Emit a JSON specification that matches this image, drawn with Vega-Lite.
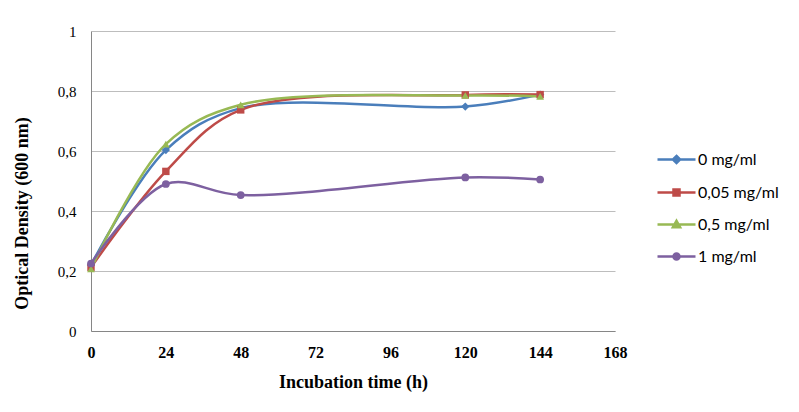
{
  "$schema": "https://vega.github.io/schema/vega-lite/v6.json",
  "width": 524,
  "height": 300,
  "autosize": "none",
  "padding": {"left": 91, "top": 31, "right": 184, "bottom": 81},
  "background": "white",
  "data": {
    "values": [
      {"t": 0, "od": 0.22, "series": "0 mg/ml"},
      {"t": 24, "od": 0.603, "series": "0 mg/ml"},
      {"t": 48, "od": 0.743, "series": "0 mg/ml"},
      {"t": 120, "od": 0.748, "series": "0 mg/ml"},
      {"t": 144, "od": 0.788, "series": "0 mg/ml"},
      {"t": 0, "od": 0.212, "series": "0,05 mg/ml"},
      {"t": 24, "od": 0.532, "series": "0,05 mg/ml"},
      {"t": 48, "od": 0.737, "series": "0,05 mg/ml"},
      {"t": 120, "od": 0.787, "series": "0,05 mg/ml"},
      {"t": 144, "od": 0.788, "series": "0,05 mg/ml"},
      {"t": 0, "od": 0.207, "series": "0,5 mg/ml"},
      {"t": 24, "od": 0.623, "series": "0,5 mg/ml"},
      {"t": 48, "od": 0.754, "series": "0,5 mg/ml"},
      {"t": 120, "od": 0.785, "series": "0,5 mg/ml"},
      {"t": 144, "od": 0.782, "series": "0,5 mg/ml"},
      {"t": 0, "od": 0.225, "series": "1 mg/ml"},
      {"t": 24, "od": 0.49, "series": "1 mg/ml"},
      {"t": 48, "od": 0.453, "series": "1 mg/ml"},
      {"t": 120, "od": 0.512, "series": "1 mg/ml"},
      {"t": 144, "od": 0.505, "series": "1 mg/ml"}
    ]
  },
  "encoding": {
    "x": {
      "field": "t", "type": "quantitative",
      "scale": {"domain": [0, 168], "nice": false, "zero": false},
      "axis": {
        "title": "Incubation time (h)",
        "values": [0, 24, 48, 72, 96, 120, 144, 168],
        "grid": false, "ticks": false, "labelPadding": 13,
        "labelFont": "Liberation Serif", "labelFontSize": 16, "labelFontWeight": "bold", "labelColor": "#000",
        "labelFlush": false, "labelOverlap": false,
        "domainColor": "#868686", "domainWidth": 1,
        "titleFont": "Liberation Serif", "titleFontSize": 18, "titleFontWeight": "bold", "titleColor": "#000",
        "titleBaseline": "alphabetic", "titleY": 56
      }
    },
    "y": {
      "field": "od", "type": "quantitative",
      "scale": {"domain": [0, 1], "nice": false},
      "axis": {
        "title": "Optical Density (600 nm)",
        "values": [0, 0.2, 0.4, 0.6, 0.8, 1],
        "labelExpr": "replace(format(datum.value, '~g'), '.', ',')",
        "grid": true, "gridColor": "#bdbdbd", "gridWidth": 1,
        "ticks": false, "labelPadding": 15,
        "labelFont": "Liberation Serif", "labelFontSize": 15, "labelColor": "#000",
        "labelFlush": false, "labelOverlap": false,
        "domainColor": "#868686", "domainWidth": 1,
        "titleFont": "Liberation Serif", "titleFontSize": 18, "titleFontWeight": "bold", "titleColor": "#000",
        "titleBaseline": "middle", "titleX": -69, "titleY": 182, "titleAngle": -90, "titleAlign": "center"
      }
    }
  },
  "layer": [
    {
      "mark": {"type": "point", "filled": false, "opacity": 0, "strokeWidth": 2.5},
      "encoding": {
        "color": {
          "field": "series", "type": "nominal",
          "scale": {"domain": ["0 mg/ml", "0,05 mg/ml", "0,5 mg/ml", "1 mg/ml"], "range": ["#4a7ebb", "#be4b48", "#98b954", "#7d60a0"]},
          "legend": {
            "encode": {"symbols": {"update": {"fill": {"scale": "color", "field": "value"}, "opacity": {"value": 1}}}}
          }
        },
        "shape": {
          "field": "series", "type": "nominal",
          "scale": {"domain": ["0 mg/ml", "0,05 mg/ml", "0,5 mg/ml", "1 mg/ml"], "range": [
            "M-1.9,0H1.9M0,-0.36L0.36,0L0,0.36L-0.36,0Z",
            "M-1.9,0H1.9M-0.3,-0.3H0.3V0.3H-0.3Z",
            "M-1.9,0H1.9M0,-0.36L0.36,0.28H-0.36Z",
            "M-1.9,0H1.9M-0.3,0A0.3,0.3,0,1,1,0.3,0A0.3,0.3,0,1,1,-0.3,0Z"
          ]},
          "legend": {
            "encode": {"symbols": {"update": {"fill": {"scale": "color", "field": "value"}, "opacity": {"value": 1}}}}
          }
        }
      }
    },
    {
      "mark": {"type": "line", "interpolate": "catmull-rom", "strokeWidth": 2.5},
      "encoding": {
        "color": {"field": "series", "type": "nominal", "legend": null},
        "detail": {"field": "series"}
      }
    },
    {
      "transform": [{"filter": "datum.series == '0 mg/ml'"}],
      "mark": {"type": "point", "shape": "diamond", "filled": true, "opacity": 1, "size": 70},
      "encoding": {"color": {"field": "series", "type": "nominal", "legend": null}}
    },
    {
      "transform": [{"filter": "datum.series == '0,05 mg/ml'"}],
      "mark": {"type": "point", "shape": "square", "filled": true, "opacity": 1, "size": 55},
      "encoding": {"color": {"field": "series", "type": "nominal", "legend": null}}
    },
    {
      "transform": [{"filter": "datum.series == '0,5 mg/ml'"}],
      "mark": {"type": "point", "shape": "triangle-up", "filled": true, "opacity": 1, "size": 60},
      "encoding": {"color": {"field": "series", "type": "nominal", "legend": null}}
    },
    {
      "transform": [{"filter": "datum.series == '1 mg/ml'"}],
      "mark": {"type": "point", "shape": "circle", "filled": true, "opacity": 1, "size": 60},
      "encoding": {"color": {"field": "series", "type": "nominal", "legend": null}}
    }
  ],
  "config": {
    "view": {"stroke": null},
    "legend": {
      "orient": "none", "legendX": 574, "legendY": 117,
      "title": null, "padding": 0,
      "symbolSize": 400, "symbolStrokeWidth": 2.5,
      "rowPadding": 12, "labelOffset": 10,
      "labelFont": "Lato", "labelFontSize": 16, "labelColor": "#000"
    }
  }
}
